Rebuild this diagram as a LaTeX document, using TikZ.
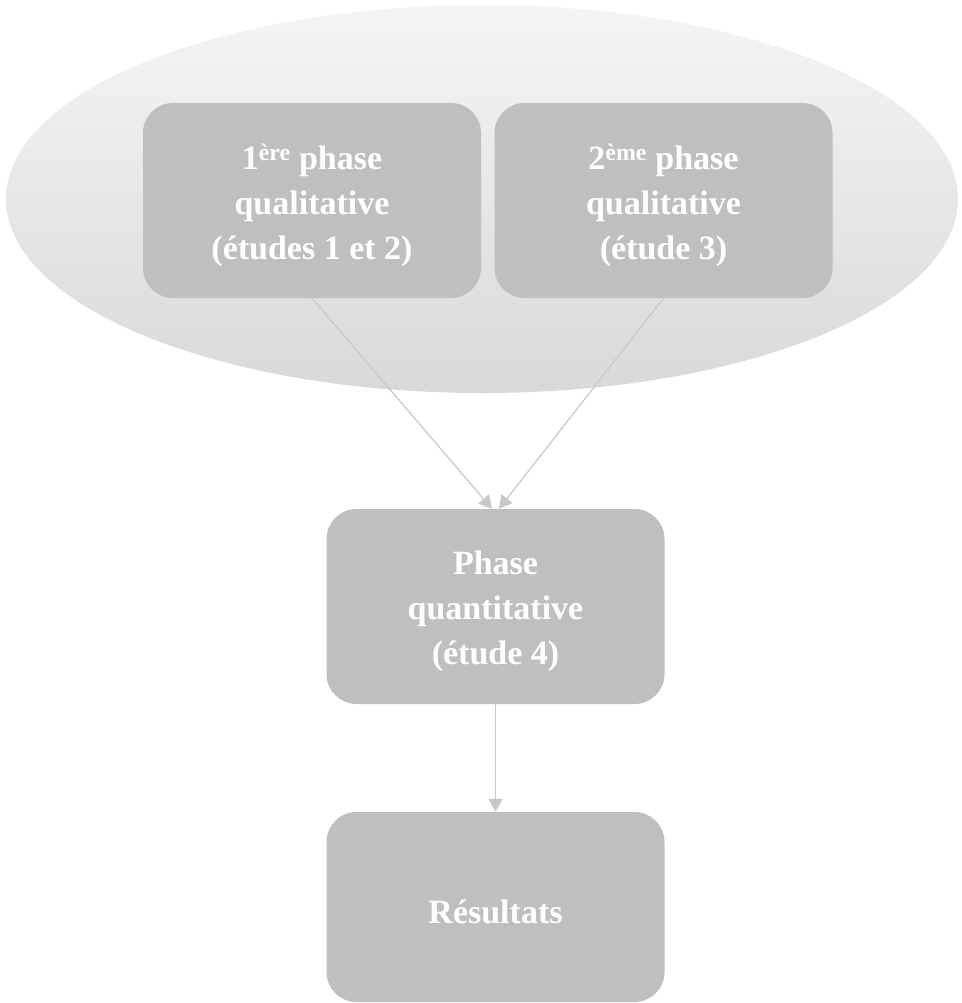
\documentclass[tikz,border=0pt]{standalone}
\usepackage{fontspec}
\setmainfont{Liberation Serif}
\usetikzlibrary{shapes.geometric,arrows.meta,calc}
\definecolor{boxgray}{HTML}{BFBFBF}
\definecolor{linegray}{HTML}{C8C8C8}
\tikzset{
  phasebox/.style={rectangle, rounded corners=30pt, fill=boxgray, draw=none,
    minimum width=338pt, minimum height=195pt, inner sep=0pt},
  phasetext/.style={text=white, align=center, inner sep=0pt,
    font=\bfseries\fontsize{34}{45}\selectfont},
  link/.style={draw=linegray, line width=1.2pt,
    -{Triangle[length=13pt,width=14pt]}},
  groupzone/.style={ellipse, draw=none, inner sep=0pt,
    minimum width=952pt, minimum height=388pt,
    top color=white!96!black, bottom color=black!15}
}
\begin{document}
\begin{tikzpicture}[x=1pt,y=-1pt]
  \useasboundingbox (0,0) rectangle (961,1003);
  \fill[white] (0,0) rectangle (961,1003);
  % qualitative phases grouped on a shaded ellipse
  \node[groupzone] (zone) at (482,199) {};
  \node[phasebox] (q1) at (312,200.5) {};
  \node[phasebox] (q2) at (663.5,200.5) {};
  % quantitative phase and results
  \node[phasebox] (qt) at (495.5,606.5) {};
  \node[phasebox, minimum height=190pt] (res) at (495.5,907) {};
  % box labels
  \node[phasetext] (q1t) at ([yshift=-5pt]q1.center) {1\textsuperscript{ère} phase\\qualitative\\(études 1 et 2)};
  \node[phasetext] (q2t) at ([yshift=-5pt]q2.center) {2\textsuperscript{ème} phase\\qualitative\\(étude 3)};
  \node[phasetext] (qtt) at ([yshift=-5pt]qt.center) {Phase\\quantitative\\(étude 4)};
  \node[phasetext] (rest) at ([yshift=-5pt]res.center) {Résultats};
  % connectors
  \draw[link] (q1.south) -- ([xshift=-3.5pt]qt.north);
  \draw[link] (q2.south) -- ([xshift=3.5pt]qt.north);
  \draw[link] (qt.south) -- (res.north);
\end{tikzpicture}
\end{document}
